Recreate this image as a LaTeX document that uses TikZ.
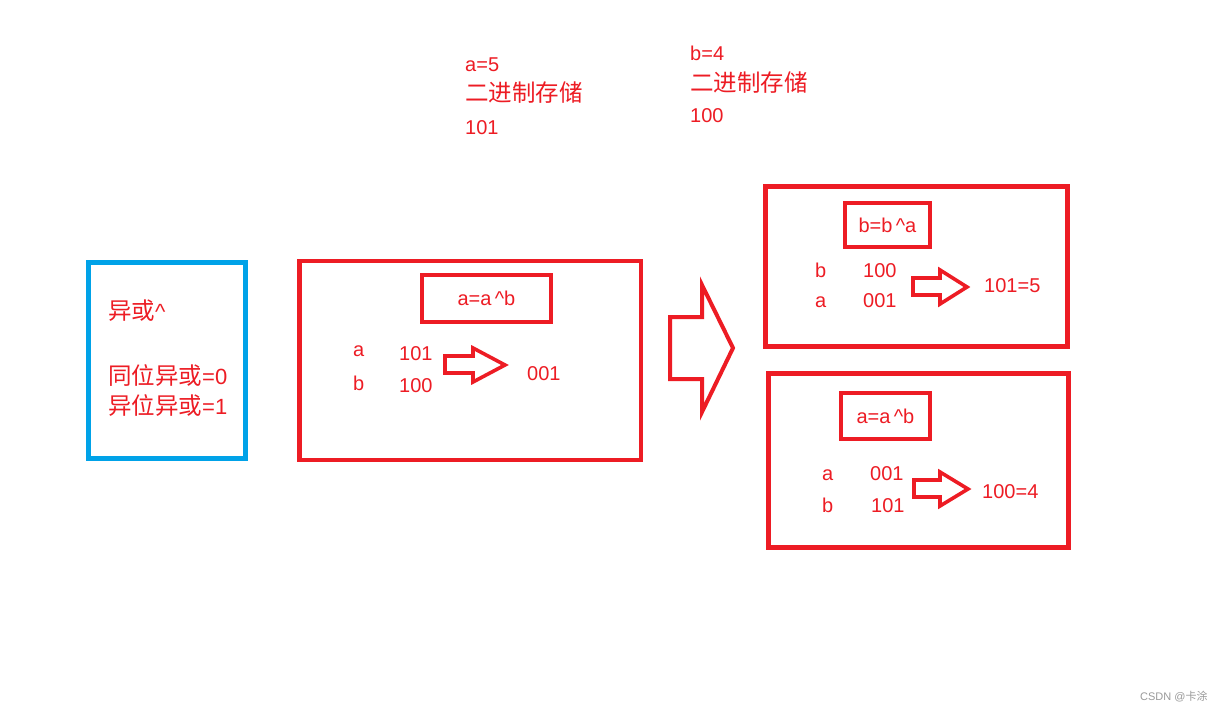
\documentclass[tikz,border=0pt]{standalone}
\usepackage{fontspec}
\setmainfont{Liberation Sans}
\newfontfamily\cjk{Noto Sans CJK SC}
\usepackage{xcolor}
\usepackage{tikz}
\definecolor{bg}{HTML}{FFFFFF}
\definecolor{pen}{HTML}{ED1C24}
\definecolor{sky}{HTML}{00A2E8}
\definecolor{mark}{HTML}{9A9A9A}
\newcommand{\zh}[1]{{\cjk\fontsize{23.5}{27}\selectfont #1}}
\newcommand{\xor}{\,\textasciicircum}
\tikzset{
  outbox/.style={draw=pen, line width=4.5pt},
  notebox/.style={draw=sky, line width=4.5pt},
  opbox/.style={draw=pen, line width=4.5pt, inner sep=0pt, text=pen,
                font=\fontsize{20}{24}\selectfont},
  fatarrow/.style={draw=pen, line width=3.6pt, line join=miter},
  bigarrow/.style={draw=pen, line width=4pt, line join=miter},
  lab/.style={text=pen, inner sep=0pt, anchor=base west,
              font=\fontsize{20}{24}\selectfont},
  rule/.style={lab, font=\fontsize{22}{26}\selectfont},
  wm/.style={text=mark, inner sep=0pt, anchor=base west,
             font=\fontsize{11}{13}\selectfont}
}
\begin{document}
\begin{tikzpicture}[x=1pt, y=-1pt]
  \fill[bg] (0,0) rectangle (1223,711);
  \useasboundingbox (0,0) rectangle (1223,711);

  % binary storage of a and b
  \node[lab] (aval) at (465,72) {a=5};
  \node[lab] (abin) at (465,102) {\zh{二进制存储}};
  \node[lab] (abits) at (465,135) {101};
  \node[lab] (bval) at (690,61) {b=4};
  \node[lab] (bbin) at (690,92) {\zh{二进制存储}};
  \node[lab] (bbits) at (690,123) {100};

  % xor rule
  \draw[notebox] (88.5,262.5) rectangle (245.5,458.5);
  \node[rule] (xorname) at (108,319) {\zh{异或}\textasciicircum};
  \node[rule] (same) at (108,384) {\zh{同位异或}=0};
  \node[rule] (diff) at (108,414) {\zh{异位异或}=1};

  % step 1
  \draw[outbox] (299.5,261) rectangle (641,460);
  \node[opbox, minimum width=129, minimum height=47] (op1) at (486.5,298.5) {a=a\xor b};
  \node[lab] (a1) at (353,356) {a};
  \node[lab] (a1bits) at (399,360) {101};
  \node[lab] (b1) at (353,390) {b};
  \node[lab] (b1bits) at (399,392) {100};
  \draw[fatarrow] (445,356) -- (473,356) -- (473,348) -- (505,365)
    -- (473,382) -- (473,373) -- (445,373) -- cycle;
  \node[lab] (r1) at (527,380) {001};

  \draw[bigarrow] (670,317) -- (702,317) -- (702,285) -- (733,348)
    -- (702,412) -- (702,379) -- (670,379) -- cycle;

  % step 2
  \draw[outbox] (765.5,186.5) rectangle (1067.5,346.5);
  \node[opbox, minimum width=85, minimum height=44] (op2) at (887.5,225) {b=b\xor a};
  \node[lab] (b2) at (815,277) {b};
  \node[lab] (b2bits) at (863,277) {100};
  \node[lab] (a2) at (815,308) {a};
  \node[lab] (a2bits) at (863,308) {001};
  \draw[fatarrow] (913,278) -- (940,278) -- (940,270) -- (967,287)
    -- (940,304) -- (940,295) -- (913,295) -- cycle;
  \node[lab] (r2) at (984,293) {101=5};

  % step 3
  \draw[outbox] (768.5,373.5) rectangle (1068.5,547.5);
  \node[opbox, minimum width=89, minimum height=46] (op3) at (885.5,416) {a=a\xor b};
  \node[lab] (a3) at (822,480) {a};
  \node[lab] (a3bits) at (870,480) {001};
  \node[lab] (b3) at (822,512) {b};
  \node[lab] (b3bits) at (871,512) {101};
  \draw[fatarrow] (914,480) -- (940,480) -- (940,472) -- (968,489)
    -- (940,506) -- (940,497) -- (914,497) -- cycle;
  \node[lab] (r3) at (982,498) {100=4};

  \node[wm] (credit) at (1140,700) {CSDN @{\cjk 卡涂}};
\end{tikzpicture}
\end{document}
